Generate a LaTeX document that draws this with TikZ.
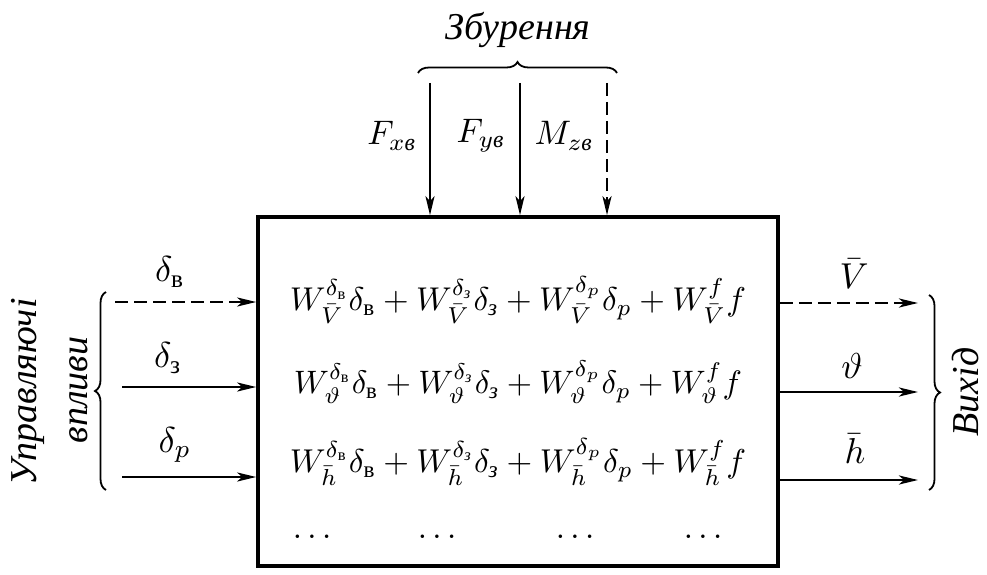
\documentclass[tikz,border=0pt]{standalone}
\usepackage{amsmath}
\usepackage{fontspec}
\setmainfont{Liberation Serif}
\usetikzlibrary{arrows.meta,decorations.pathreplacing}
\begin{document}
\begin{tikzpicture}[x=1pt,y=1pt,
  arr/.style={line width=2.6pt,-{Stealth[length=19pt,width=9pt,inset=5pt]}},
  dsh/.style={dash pattern=on 13pt off 6pt},
  brc/.style={decorate,decoration={brace,amplitude=11pt},line width=1.8pt},
  biglbl/.style={inner sep=0pt},
  toplbl/.style={inner sep=0pt},
  word/.style={font=\fontsize{38}{42}\selectfont\itshape,inner sep=0pt},
  formula/.style={inner sep=0pt},
  dotsn/.style={inner sep=0pt}]
\useasboundingbox (0,0) rectangle (987,-575);
% main box
\node[draw,line width=3.6pt,minimum width=520pt,minimum height=349pt,inner sep=0pt] (box) at (518,-391.5) {};
% formulas
\node[formula] (r1) at (518,-300) {\resizebox{456pt}{!}{$W^{\delta_{\textup{в}}}_{\bar{V}}\delta_{\textup{в}}+W^{\delta_{\textit{з}}}_{\bar{V}}\delta_{\textit{з}}+W^{\delta_{p}}_{\bar{V}}\delta_{p}+W^{f}_{\bar{V}}f$}};
\node[formula] (r2) at (518,-382) {\resizebox{448pt}{!}{$W^{\delta_{\textup{в}}}_{\vartheta}\delta_{\textup{в}}+W^{\delta_{\textit{з}}}_{\vartheta}\delta_{\textit{з}}+W^{\delta_{p}}_{\vartheta}\delta_{p}+W^{f}_{\vartheta}f$}};
\node[formula] (r3) at (518,-462) {\resizebox{456pt}{!}{$W^{\delta_{\textup{в}}}_{\bar{h}}\delta_{\textup{в}}+W^{\delta_{\textit{з}}}_{\bar{h}}\delta_{\textit{з}}+W^{\delta_{p}}_{\bar{h}}\delta_{p}+W^{f}_{\bar{h}}f$}};
\node[dotsn] (d1) at (312,-537) {\scalebox{3.3}{$\ldots$}};
\node[dotsn] (d2) at (437,-537) {\scalebox{3.3}{$\ldots$}};
\node[dotsn] (d3) at (575,-537) {\scalebox{3.3}{$\ldots$}};
\node[dotsn] (d4) at (703,-537) {\scalebox{3.3}{$\ldots$}};
% inputs
\coordinate (i1) at (115,-302);
\coordinate (i2) at (122,-387);
\coordinate (i3) at (122,-477);
\draw[arr,dsh] (i1) -- (i1 -| box.west);
\draw[arr] (i2) -- (i2 -| box.west);
\draw[arr] (i3) -- (i3 -| box.west);
\node[biglbl] (li1) at (170,-272) {\scalebox{3.6}{$\delta_{\textup{в}}$}};
\node[biglbl] (li2) at (168,-358) {\scalebox{3.6}{$\delta_{\textup{з}}$}};
\node[biglbl] (li3) at (175,-445) {\scalebox{3.6}{$\delta_{p}$}};
\coordinate (lb1) at (106,-490);
\coordinate (lb2) at (106,-292);
\draw[brc] (lb1) -- (lb2);
\node[word,rotate=90] (uv) at (28,-392) {Управляючі};
\node[word,rotate=90] (vp) at (79,-390) {впливи};
% outputs
\coordinate (o1) at (918,-303);
\coordinate (o2) at (918,-392);
\coordinate (o3) at (918,-480);
\draw[arr,dsh] (o1 -| box.east) -- (o1);
\draw[arr] (o2 -| box.east) -- (o2);
\draw[arr] (o3 -| box.east) -- (o3);
\node[biglbl] (lo1) at (854,-274) {\scalebox{3.6}{$\bar{V}$}};
\node[biglbl] (lo2) at (852,-366) {\scalebox{3.6}{$\vartheta$}};
\node[biglbl] (lo3) at (855,-449) {\scalebox{3.6}{$\bar{h}$}};
\coordinate (rb1) at (929,-295);
\coordinate (rb2) at (929,-490);
\draw[brc] (rb1) -- (rb2);
\node[word,rotate=90] (vy) at (966,-392) {Вихід};
% disturbances
\coordinate (t1) at (430,-83);
\coordinate (t2) at (520,-83);
\coordinate (t3) at (607,-83);
\draw[arr] (t1) -- (t1 |- box.north);
\draw[arr] (t2) -- (t2 |- box.north);
\draw[arr,dsh] (t3) -- (t3 |- box.north);
\node[toplbl] (lt1) at (392,-136) {\scalebox{3.4}{$F_{x\textit{в}}$}};
\node[toplbl] (lt2) at (481,-136) {\scalebox{3.4}{$F_{y\textit{в}}$}};
\node[toplbl] (lt3) at (564,-136) {\scalebox{3.4}{$M_{z\textit{в}}$}};
\coordinate (tb1) at (418,-73);
\coordinate (tb2) at (617,-73);
\draw[brc] (tb1) -- (tb2);
\node[word] (zb) at (518,-30) {Збурення};
\end{tikzpicture}
\end{document}
